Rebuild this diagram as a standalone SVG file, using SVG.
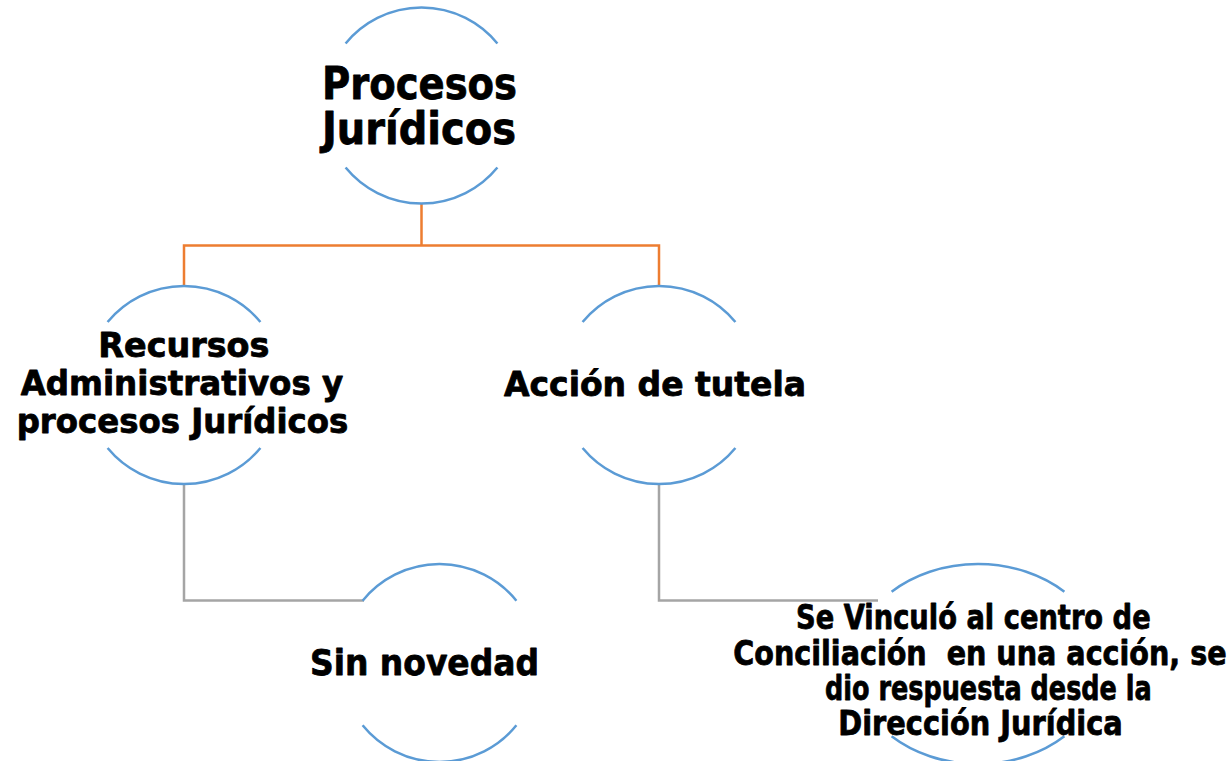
<svg xmlns="http://www.w3.org/2000/svg" width="1230" height="761" viewBox="0 0 1230 761">
<style>
.arc{fill:none;stroke:#5B9BD5;stroke-width:2.5}
.org{fill:none;stroke:#ED7D31;stroke-width:2.5}
.gry{fill:none;stroke:#A5A5A5;stroke-width:2.5}
text{font-family:"DejaVu Sans","Liberation Sans",sans-serif;font-weight:bold;fill:#000;stroke:#000;stroke-width:0.8;stroke-linejoin:round}
</style>
<rect width="1230" height="761" fill="#fff"/>
<g id="connectors">
<path class="org" d="M421.5,204 V245.5 M184,286 V245.5 H659 V286"/>
<path class="gry" d="M184,484 V600.5 H364"/>
<path class="gry" d="M659,484 V600.5 H878"/>
</g>
<g id="node-procesos">
<path class="arc" d="M345.6,43.5 A98,98 0 0,1 497.4,43.5 M345.6,167.5 A98,98 0 0,0 497.4,167.5"/>
<text x="322" y="99.3" font-size="44" textLength="195" lengthAdjust="spacingAndGlyphs">Procesos</text>
<text x="322" y="144.3" font-size="44" textLength="194" lengthAdjust="spacingAndGlyphs">Jurídicos</text>
</g>
<g id="node-recursos">
<path class="arc" d="M107.6,322 A99,99 0 0,1 260.4,322 M107.6,448 A99,99 0 0,0 260.4,448"/>
<text x="98.3" y="357.3" font-size="33" textLength="171" lengthAdjust="spacingAndGlyphs">Recursos</text>
<text x="20.7" y="395" font-size="33" textLength="322.6" lengthAdjust="spacingAndGlyphs">Administrativos y</text>
<text x="16.7" y="433.3" font-size="33" textLength="331.6" lengthAdjust="spacingAndGlyphs">procesos Jurídicos</text>
</g>
<g id="node-tutela">
<path class="arc" d="M582.6,322 A99,99 0 0,1 735.4,322 M582.6,448 A99,99 0 0,0 735.4,448"/>
<text x="504" y="396" font-size="33" textLength="302" lengthAdjust="spacingAndGlyphs">Acción de tutela</text>
</g>
<g id="node-sin-novedad">
<path class="arc" d="M362.6,600.7 A99,99 0 0,1 516.4,600.7 M362.6,725.3 A99,99 0 0,0 516.4,725.3"/>
<text x="310" y="675" font-size="36" textLength="229" lengthAdjust="spacingAndGlyphs">Sin novedad</text>
</g>
<g id="node-vinculo">
<path class="arc" d="M891.6,591.7 A125,100 0 0,1 1064.4,591.7 M891.6,736.3 A125,100 0 0,0 1064.4,736.3"/>
<text x="796" y="629.3" font-size="33" textLength="354.7" lengthAdjust="spacingAndGlyphs">Se Vinculó al centro de</text>
<text x="733.3" y="665" font-size="33" textLength="493.3" lengthAdjust="spacingAndGlyphs" xml:space="preserve">Conciliación  en una acción, se</text>
<text x="825" y="700" font-size="33" textLength="326.7" lengthAdjust="spacingAndGlyphs">dio respuesta desde la</text>
<text x="838.3" y="735" font-size="33" textLength="284.4" lengthAdjust="spacingAndGlyphs">Dirección Jurídica</text>
</g>
</svg>
